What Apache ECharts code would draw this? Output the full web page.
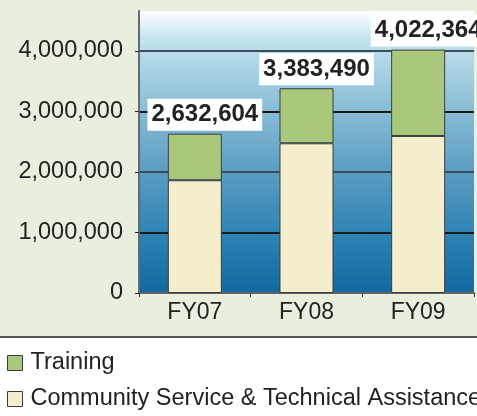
<!DOCTYPE html>
<html>
<head>
<meta charset="utf-8">
<script src="https://cdn.jsdelivr.net/npm/echarts@6/dist/echarts.min.js"></script>
<style>
	html, body {margin: 0; padding: 0;}
	#chart {width: 477px; height: 416px;}
</style>
</head>
<body>
<div id="chart"></div>
<script>
// 数据
var categories = ['FY07', 'FY08', 'FY09'];
var community = [1863000, 2474000, 2595000];
var training = [769604, 909490, 1427364];
var totals = [2632604, 3383490, 4022364];
var yTicks = [0, 1000000, 2000000, 3000000, 4000000];

var font = '"Liberation Sans", Arial, sans-serif';
var chart = echarts.init(document.getElementById('chart'));

function fmt(v) {
	return String(v).replace(/\B(?=(\d{3})+(?!\d))/g, ',');
}

var option = {
	backgroundColor: '#e9efdf',
	animation: false,
	textStyle: {fontFamily: font},
	grid: {
		left: 139,
		right: 3,
		top: 11,
		bottom: 123,
		containLabel: false,
		outerBoundsMode: 'none',
		show: true,
		borderWidth: 0,
		backgroundColor: new echarts.graphic.LinearGradient(0, 0, 0, 1, [
			{offset: 0, color: '#ffffff'},
			{offset: 0.1, color: '#c3e3ef'},
			{offset: 0.3, color: '#93c4da'},
			{offset: 0.55, color: '#5f9fc4'},
			{offset: 0.8, color: '#2d82b4'},
			{offset: 1, color: '#1169a0'}
		])
	},
	legend: {
		orient: 'vertical',
		left: 7,
		top: 351,
		padding: 0,
		z: 10,
		itemWidth: 15,
		itemHeight: 15,
		itemGap: 12,
		icon: 'rect',
		data: ['Training', 'Community Service & Technical Assistance'],
		itemStyle: {borderColor: '#3c3c3c', borderWidth: 1},
		textStyle: {fontSize: 23.5, color: '#222', fontFamily: font, lineHeight: 23, padding: [0, 0, 0, 3]}
	},
	graphic: [
		{type: 'rect', z: 1, shape: {x: 0, y: 338, width: 477, height: 78}, style: {fill: '#ffffff'}},
		{type: 'line', z: 2, shape: {x1: 0, y1: 337, x2: 477, y2: 337}, style: {stroke: '#555', lineWidth: 2}}
	],
	xAxis: {
		type: 'category',
		data: categories,
		axisLine: {lineStyle: {color: '#666', width: 2}},
		axisTick: {show: true, length: 4, lineStyle: {color: '#333'}},
		axisLabel: {color: '#222', fontSize: 23, margin: 8, fontFamily: font}
	},
	yAxis: {
		type: 'value',
		min: 0,
		max: 4660000,
		interval: 1000000,
		axisLine: {show: true, lineStyle: {color: '#6a6a6a', width: 2}},
		axisTick: {show: true, length: 4, lineStyle: {color: '#222'}},
		axisLabel: {
			color: '#222', fontSize: 23.5, margin: 16, fontFamily: font, showMaxLabel: false,
			formatter: function (v) { return yTicks.indexOf(v) >= 0 ? fmt(v) : ''; }
		},
		splitLine: {
			show: true,
			lineStyle: {color: ['#333', '#1a1a1a', '#3a4c58', '#1a1a1a', '#3a4c58', 'rgba(0,0,0,0)'], width: 2}
		}
	},
	series: [
		{
			name: 'Community Service & Technical Assistance',
			type: 'bar',
			stack: 'total',
			barWidth: 54,
			itemStyle: {color: '#f4eecc', borderColor: '#3c3c3c', borderWidth: 1},
			data: community
		},
		{
			name: 'Training',
			type: 'bar',
			stack: 'total',
			barWidth: 54,
			itemStyle: {color: '#a9c87b', borderColor: '#3c3c3c', borderWidth: 1},
			label: {
				show: true,
				position: 'top',
				distance: 3,
				offset: [10, 0],
				fontSize: 24,
				fontWeight: 'bold',
				color: '#222',
				fontFamily: font,
				backgroundColor: '#fff',
				padding: [4, 4, 4, 4],
				formatter: function (p) { return fmt(totals[p.dataIndex]); }
			},
			data: training
		}
	]
};

chart.setOption(option);
</script>
</body>
</html>
